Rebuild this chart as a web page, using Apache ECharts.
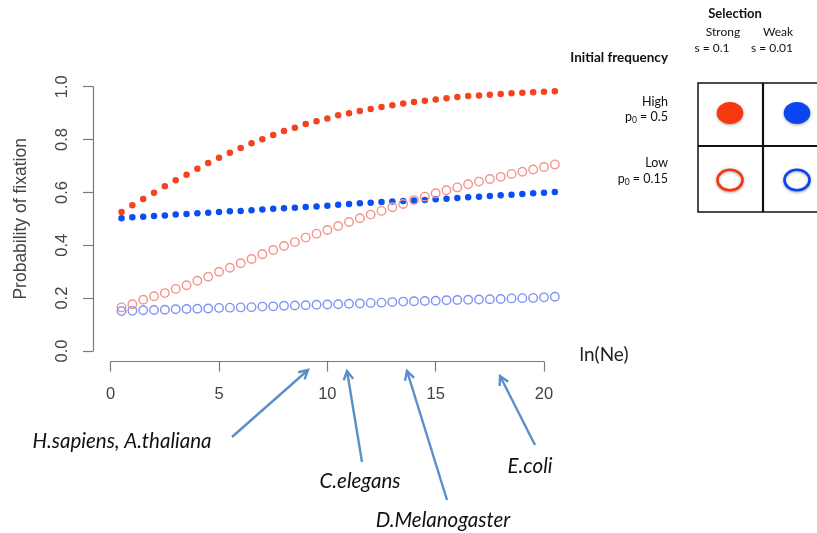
<!DOCTYPE html>
<html><head><meta charset="utf-8">
<script src="https://cdn.jsdelivr.net/npm/echarts@6/dist/echarts.min.js"></script>
<style>html,body{margin:0;padding:0;background:#fff}#c{width:817px;height:533px}</style>
</head><body><div id="c"></div>
<script>
// ln(Ne) values
const lnNe = [0.5,1,1.5,2,2.5,3,3.5,4,4.5,5,5.5,6,6.5,7,7.5,8,8.5,9,9.5,10,10.5,11,11.5,12,12.5,13,13.5,14,14.5,15,15.5,16,16.5,17,17.5,18,18.5,19,19.5,20,20.5];
// Strong selection (s=0.1), high initial frequency (p0=0.5)
const strongHigh = [0.526,0.551,0.575,0.599,0.623,0.646,0.667,0.690,0.711,0.731,0.750,0.768,0.786,0.801,0.817,0.832,0.845,0.859,0.869,0.880,0.892,0.900,0.908,0.916,0.923,0.930,0.936,0.942,0.947,0.952,0.956,0.961,0.965,0.967,0.970,0.972,0.975,0.977,0.979,0.981,0.983];
// Weak selection (s=0.01), high initial frequency
const weakHigh = [0.502,0.506,0.508,0.511,0.513,0.516,0.518,0.521,0.523,0.526,0.529,0.530,0.533,0.535,0.538,0.540,0.542,0.545,0.547,0.550,0.553,0.556,0.559,0.561,0.564,0.566,0.568,0.569,0.571,0.574,0.576,0.579,0.582,0.584,0.586,0.589,0.591,0.594,0.597,0.599,0.602];
// Strong selection, low initial frequency (p0=0.15)
const strongLow = [0.165,0.177,0.194,0.207,0.219,0.235,0.249,0.266,0.281,0.300,0.315,0.332,0.348,0.366,0.382,0.397,0.412,0.429,0.444,0.458,0.473,0.488,0.502,0.516,0.530,0.544,0.556,0.571,0.584,0.597,0.608,0.619,0.631,0.641,0.651,0.659,0.670,0.678,0.687,0.696,0.706];
// Weak selection, low initial frequency
const weakLow = [0.151,0.152,0.154,0.155,0.156,0.158,0.159,0.160,0.161,0.163,0.164,0.165,0.166,0.168,0.169,0.171,0.172,0.173,0.175,0.176,0.177,0.179,0.180,0.182,0.183,0.185,0.187,0.188,0.189,0.190,0.192,0.193,0.194,0.195,0.196,0.197,0.199,0.200,0.201,0.203,0.205];

const xTickLabels = ['0','5','10','15','20'];
const yTickLabels = ['0.0','0.2','0.4','0.6','0.8','1.0'];
const annotations = ['H.sapiens, A.thaliana','C.elegans','D.Melanogaster','E.coli'];

const pairs = arr => lnNe.map((x,i)=>[x,arr[i]]);
const chart = echarts.init(document.getElementById('c'), null, {renderer:'canvas'});

const axisCol = '#7a7a7a', labCol = '#444';
const AX = 'Liberation Sans, Arial, sans-serif';
const LG = 'Lato, sans-serif';

function arrow(x1,y1,x2,y2){
  const col='#5b8fc9', w=2.4, L=10, a=0.5;
  const ang=Math.atan2(y2-y1,x2-x1);
  const p1=[x2-L*Math.cos(ang-a), y2-L*Math.sin(ang-a)];
  const p2=[x2-L*Math.cos(ang+a), y2-L*Math.sin(ang+a)];
  return [
    {type:'line',silent:true,shape:{x1,y1,x2,y2},style:{stroke:col,lineWidth:w}},
    {type:'polyline',silent:true,shape:{points:[p1,[x2,y2],p2]},style:{stroke:col,lineWidth:w,fill:null,lineJoin:'miter'}}
  ];
}
function txt(x,y,text,opt){
  return {type:'text',silent:true,x,y,style:Object.assign({text,textAlign:'center',textVerticalAlign:'middle',align:'center',verticalAlign:'middle',fill:'#111',font:'12px '+LG},opt||{})};
}
const pRich = {a:{fontSize:12.5,fontFamily:LG,fill:'#111',color:'#111'},b:{fontSize:8.5,fontFamily:LG,fill:'#111',color:'#111',padding:[7,0,0,0]}};

const graphics = [
  txt(604,355,'ln(Ne)',{font:'19px '+LG,fill:'#222'}),
  txt(735,14,'Selection',{font:'bold 13px '+LG}),
  txt(723,32,'Strong',{font:'12px '+LG}),
  txt(778,32,'Weak',{font:'12px '+LG}),
  txt(712,48,'s = 0.1',{font:'12px '+LG}),
  txt(772,48,'s = 0.01',{font:'12px '+LG}),
  txt(668,58,'Initial frequency',{font:'bold 13.5px '+LG,textAlign:'right',align:'right'}),
  txt(668,102,'High',{font:'12.5px '+LG,textAlign:'right',align:'right'}),
  txt(668,117,'{a|p}{b|0}{a| = 0.5}',{textAlign:'right',align:'right',rich:pRich}),
  txt(668,163,'Low',{font:'12.5px '+LG,textAlign:'right',align:'right'}),
  txt(668,179,'{a|p}{b|0}{a| = 0.15}',{textAlign:'right',align:'right',rich:pRich}),
  {type:'rect',silent:true,shape:{x:698,y:83,width:140,height:129},style:{fill:'none',stroke:'#111',lineWidth:1.5}},
  {type:'line',silent:true,shape:{x1:763,y1:83,x2:763,y2:212},style:{stroke:'#111',lineWidth:2.2}},
  {type:'line',silent:true,shape:{x1:698,y1:146,x2:830,y2:146},style:{stroke:'#111',lineWidth:2.2}},
  {type:'ellipse',silent:true,shape:{cx:730,cy:113,rx:13.3,ry:11},style:{fill:'#f5380f',shadowBlur:3,shadowColor:'rgba(0,0,0,0.35)',shadowOffsetY:1}},
  {type:'ellipse',silent:true,shape:{cx:797,cy:113,rx:13.3,ry:11},style:{fill:'#0b45f2',shadowBlur:3,shadowColor:'rgba(0,0,0,0.35)',shadowOffsetY:1}},
  {type:'ellipse',silent:true,shape:{cx:730,cy:180,rx:12.5,ry:10.3},style:{fill:'#fff',stroke:'#f5380f',lineWidth:2.6,shadowBlur:3,shadowColor:'rgba(0,0,0,0.3)',shadowOffsetY:1}},
  {type:'ellipse',silent:true,shape:{cx:797,cy:180,rx:12.5,ry:10.3},style:{fill:'#fff',stroke:'#0b45f2',lineWidth:2.6,shadowBlur:3,shadowColor:'rgba(0,0,0,0.3)',shadowOffsetY:1}},
  txt(122,441,annotations[0],{font:'italic 20.5px '+LG}),
  txt(360,481,annotations[1],{font:'italic 20.5px '+LG}),
  txt(443,520,annotations[2],{font:'italic 20.5px '+LG}),
  txt(530,466,annotations[3],{font:'italic 20.5px '+LG}),
  ...arrow(232,437,308,370),
  ...arrow(362,462,347,371),
  ...arrow(447,500,407,371),
  ...arrow(535,445,500,376)
];

const option = {
  animation:false,
  backgroundColor:'#fff',
  grid:{left:110.7,top:86.7,width:433.3,height:264.3,containLabel:false},
  xAxis:{type:'value',min:0,max:20,interval:5,offset:10.7,
    axisLine:{show:true,onZero:false,lineStyle:{color:axisCol,width:1.2}},
    axisTick:{show:true,length:10,lineStyle:{color:axisCol,width:1.2}},
    axisLabel:{margin:24,color:labCol,fontSize:16.5,fontFamily:AX,formatter:v=>xTickLabels[Math.round(v/5)]},
    splitLine:{show:false}},
  yAxis:{type:'value',min:0,max:1,interval:0.2,offset:17.7,
    name:'Probability of fixation',nameLocation:'middle',nameGap:63,
    nameTextStyle:{fontSize:17.5,fontFamily:AX,color:'#444'},
    axisLine:{show:true,onZero:false,lineStyle:{color:axisCol,width:1.2}},
    axisTick:{show:true,length:10,lineStyle:{color:axisCol,width:1.2}},
    axisLabel:{margin:22,rotate:90,color:labCol,fontSize:16.5,fontFamily:AX,formatter:v=>yTickLabels[Math.round(v*5)]},
    splitLine:{show:false}},
  series:[
    {type:'scatter',clip:false,silent:true,symbol:'circle',symbolSize:6.5,data:pairs(strongHigh),itemStyle:{color:'#f5421f',opacity:1}},
    {type:'scatter',clip:false,silent:true,symbol:'circle',symbolSize:6.5,data:pairs(weakHigh),itemStyle:{color:'#0a4ff2',opacity:1}},
    {type:'scatter',clip:false,silent:true,symbol:'circle',symbolSize:8.5,data:pairs(strongLow),itemStyle:{color:'rgba(255,255,255,0)',borderColor:'#f3948c',borderWidth:1.4,opacity:1}},
    {type:'scatter',clip:false,silent:true,symbol:'circle',symbolSize:8.5,data:pairs(weakLow),itemStyle:{color:'rgba(255,255,255,0)',borderColor:'#8192f3',borderWidth:1.4,opacity:1}}
  ],
  graphic:graphics
};
chart.setOption(option);
</script></body></html>
